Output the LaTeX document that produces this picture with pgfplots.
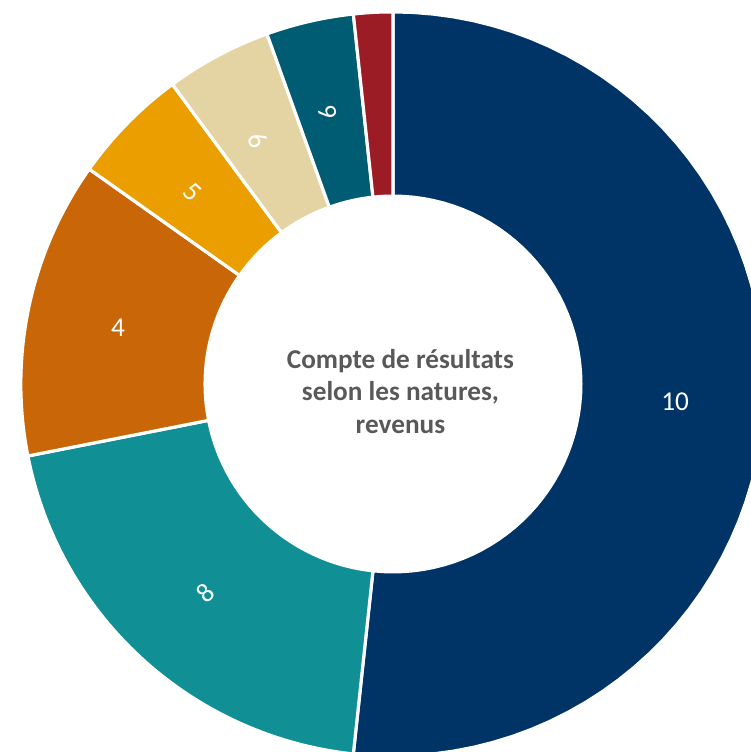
\documentclass[border=0pt]{standalone}
\usepackage{pgfplots}
\pgfplotsset{compat=1.18}
\usepackage{pgfplotstable}
\usepackage{fontspec}
\setmainfont{Carlito}
\definecolor{cA}{RGB}{0,52,102}
\definecolor{cB}{RGB}{16,143,148}
\definecolor{cC}{RGB}{200,102,8}
\definecolor{cD}{RGB}{234,158,0}
\definecolor{cE}{RGB}{228,212,164}
\definecolor{cF}{RGB}{0,92,114}
\definecolor{cG}{RGB}{156,28,38}
\definecolor{txtgray}{RGB}{89,89,89}
\pgfplotstableread{
name value col
10 51.7 cA
8 20.2 cB
4 12.9 cC
5 5.1 cD
6 4.6 cE
9 3.8 cF
x 1.7 cG
}\data
\begin{document}
\begin{tikzpicture}
\begin{axis}[
  width=15.02cm, height=15.04cm, scale only axis,
  xmin=-1.056, xmax=0.962, ymin=-0.989, ymax=1.032,
  hide axis, clip=true]
\path (rel axis cs:0,0) rectangle (rel axis cs:1,1);
\gdef\aStart{90}
\pgfplotsforeachungrouped \i in {0,...,6}{%
  \pgfplotstablegetelem{\i}{value}\of\data \let\sliceval\pgfplotsretval
  \pgfplotstablegetelem{\i}{col}\of\data \let\slicecol\pgfplotsretval
  \pgfmathsetmacro\aEnd{\aStart-3.6*\sliceval}%
  \edef\temp{\noexpand\addplot[fill=\slicecol, draw=white, line width=1.8pt, line join=round, domain=0:3, samples=181, variable=\noexpand\t]
   ({((\noexpand\t<1.5) ? 1 : 0.505)*cos((\noexpand\t<1.5) ? (\aStart+(\aEnd-\aStart)*min(\noexpand\t,1)) : (\aEnd-(\aEnd-\aStart)*min(max(\noexpand\t-2,0),1)))},
    {((\noexpand\t<1.5) ? 1 : 0.505)*sin((\noexpand\t<1.5) ? (\aStart+(\aEnd-\aStart)*min(\noexpand\t,1)) : (\aEnd-(\aEnd-\aStart)*min(max(\noexpand\t-2,0),1)))}) -- cycle;}%
  \temp
  \global\let\aStart\aEnd
}
\tikzset{lbl/.style={text=white, font=\fontsize{15.5}{18}\selectfont, inner sep=0pt}}
\node[lbl] at (axis cs:0.758,-0.048) {10};
\node[lbl, rotate=42] at (axis cs:-0.505,-0.562) {8};
\node[lbl] at (axis cs:-0.739,0.151) {4};
\node[lbl, rotate=-44] at (axis cs:-0.540,0.516) {5};
\node[lbl, rotate=-61] at (axis cs:-0.363,0.656) {6};
\node[lbl, rotate=-77] at (axis cs:-0.175,0.731) {9};
\node[align=center, text=txtgray, font=\bfseries\fontsize{15.5}{18.3}\selectfont] at (axis cs:0.02,-0.02) {Compte de résultats\\selon les natures,\\revenus};
\end{axis}
\end{tikzpicture}
\end{document}
